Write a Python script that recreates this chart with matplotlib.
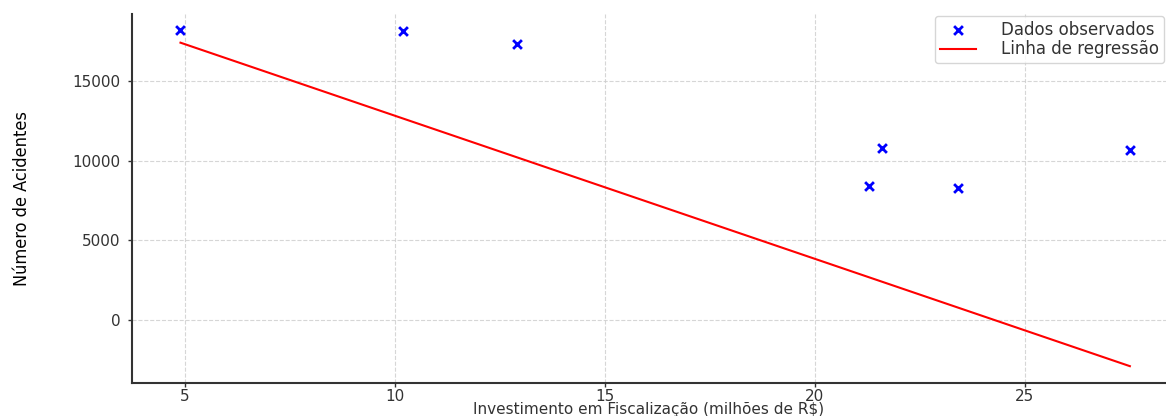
import numpy as np
import matplotlib.pyplot as plt

# Dados
investimento = np.array([4.9, 10.2, 12.9, 21.3, 21.6, 23.4, 27.5])
acidentes = np.array([18200, 18150, 17300, 8400, 10800, 8280, 10680])

# Coeficientes da linha de regressão (intercepto, inclinação)
intercepto = 21810
inclinacao = -898

x_tick_vals = [5, 10, 15, 20, 25]
y_tick_vals = [0, 5000, 10000, 15000]

fig = plt.figure(figsize=(11.66, 4.16), dpi=100)
ax = fig.add_axes([0.113, 0.079, 0.887, 0.887])

ax.scatter(investimento, acidentes, marker='x', color='blue', s=40, linewidths=2,
           label='Dados observados', zorder=3)

x_linha = np.array([investimento.min(), investimento.max()])
ax.plot(x_linha, intercepto + inclinacao * x_linha, color='red', lw=1.5,
        label='Linha de regressão', zorder=2)

ax.set_xlim(3.74, 28.36)
ax.set_ylim(-3950, 19200)
ax.set_xticks(x_tick_vals)
ax.set_yticks(y_tick_vals)

ax.grid(True, color='#cccccc', linestyle='--', linewidth=0.8, alpha=0.8)
ax.set_axisbelow(True)

for s in ['top', 'right']:
    ax.spines[s].set_visible(False)
for s in ['left', 'bottom']:
    ax.spines[s].set_color('#333333')
    ax.spines[s].set_linewidth(1.5)

ax.tick_params(axis='both', labelsize=11, colors='#333333', length=3, width=1)
ax.tick_params(axis='x', pad=1)
ax.tick_params(axis='y', pad=5)

ax.set_xlabel('Investimento em Fiscalização (milhões de R$)', fontsize=11,
              color='#333333', labelpad=-1)
ax.set_ylabel('Número de Acidentes', fontsize=13, fontstretch='condensed',
              labelpad=30)

leg = ax.legend(loc='upper right', fontsize=12, frameon=True, borderaxespad=0.1,
                handlelength=2.2, handletextpad=1.5, borderpad=0.3, labelspacing=0.1)
leg.get_frame().set_edgecolor('#cccccc')
for t in leg.get_texts():
    t.set_color('#333333')

fig.savefig('out.png', dpi=100)
